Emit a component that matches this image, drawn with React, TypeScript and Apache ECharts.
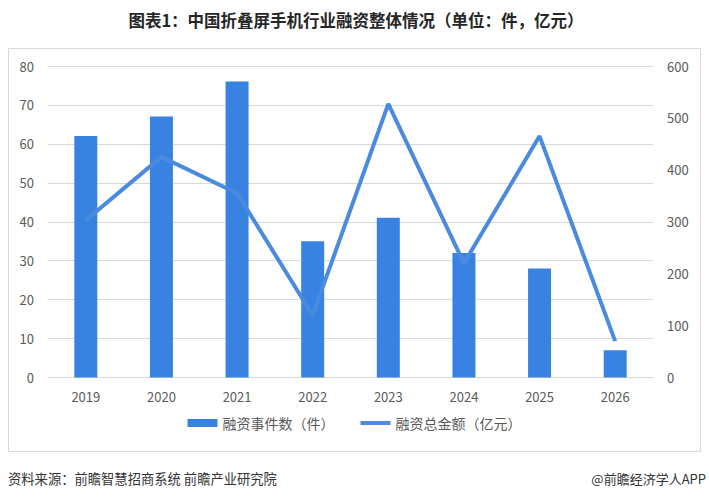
import React, { useEffect, useRef } from "react";
import * as echarts from "echarts";

const years = ["2019", "2020", "2021", "2022", "2023", "2024", "2025", "2026"];
const eventCounts = [62, 67, 76, 35, 41, 32, 28, 7];
const amounts = [303, 425, 355, 120, 527, 220, 465, 70];
const leftTicks = { min: 0, max: 80, interval: 10 };
const rightTicks = { min: 0, max: 600, interval: 100 };
const titleText = "图表1：中国折叠屏手机行业融资整体情况（单位：件，亿元）";
const sourceText = "资料来源：前瞻智慧招商系统 前瞻产业研究院";
const brandText = "@前瞻经济学人APP";
const barName = "融资事件数（件）";
const lineName = "融资总金额（亿元）";

const FONT = "'Noto Sans CJK SC', 'Noto Sans', sans-serif";

export default function App() {
  const ref = useRef<HTMLDivElement>(null);
  useEffect(() => {
    document.body.style.margin = "0";
    const chart = echarts.init(ref.current!, null, { renderer: "svg" });
    chart.setOption({
      animation: false,
      backgroundColor: "#ffffff",
      textStyle: { fontFamily: FONT },
      graphic: [
        {
          type: "rect",
          shape: { x: 8.5, y: 48.5, width: 692, height: 403 },
          style: { fill: "none", stroke: "#d9d9d9", lineWidth: 1 },
          z: -1,
        },
        {
          type: "text",
          x: 356,
          y: 20,
          style: {
            text: titleText,
            fontSize: 16.5,
            fontWeight: "bold",
            fill: "#262626",
            align: "center",
            verticalAlign: "middle",
            fontFamily: FONT,
          },
        },
        {
          type: "text",
          x: 8,
          y: 478,
          style: {
            text: sourceText,
            fontSize: 13.3,
            fill: "#333333",
            align: "left",
            verticalAlign: "middle",
            fontFamily: FONT,
          },
        },
        {
          type: "text",
          x: 706,
          y: 478,
          style: {
            text: brandText,
            fontSize: 13,
            fill: "#333333",
            align: "right",
            verticalAlign: "middle",
            fontFamily: FONT,
          },
        },
      ],
      grid: { left: 48, right: 56, top: 66, bottom: 119.5, containLabel: false },
      legend: {
        bottom: 62,
        left: "center",
        itemWidth: 30,
        itemHeight: 8,
        itemGap: 26,
        textStyle: { fontSize: 14, color: "#595959", fontFamily: FONT },
        data: [
          { name: barName, icon: "rect" },
          { name: lineName, icon: "path://M0,0h30v4h-30z" },
        ],
      },
      xAxis: {
        type: "category",
        data: years,
        axisLine: { show: true, lineStyle: { color: "#d9d9d9" } },
        axisTick: { show: false },
        axisLabel: { color: "#595959", fontSize: 13, margin: 12 },
      },
      yAxis: [
        {
          type: "value",
          ...leftTicks,
          axisLine: { show: false },
          axisTick: { show: false },
          axisLabel: { color: "#595959", fontSize: 13, margin: 14 },
          splitLine: { lineStyle: { color: "#d9d9d9" } },
        },
        {
          type: "value",
          ...rightTicks,
          axisLine: { show: false },
          axisTick: { show: false },
          axisLabel: { color: "#595959", fontSize: 13, margin: 14 },
          splitLine: { show: false },
        },
      ],
      series: [
        {
          name: barName,
          type: "bar",
          data: eventCounts,
          barWidth: 23,
          itemStyle: { color: "#3883e2" },
        },
        {
          name: lineName,
          type: "line",
          yAxisIndex: 1,
          data: amounts,
          symbol: "none",
          lineStyle: { color: "#4a8be0", width: 4 },
          itemStyle: { color: "#4a8be0" },
        },
      ],
    });
    return () => chart.dispose();
  }, []);
  return (
    <div
      ref={ref}
      style={{ position: "fixed", left: 0, top: 0, width: 709, height: 497 }}
    />
  );
}
